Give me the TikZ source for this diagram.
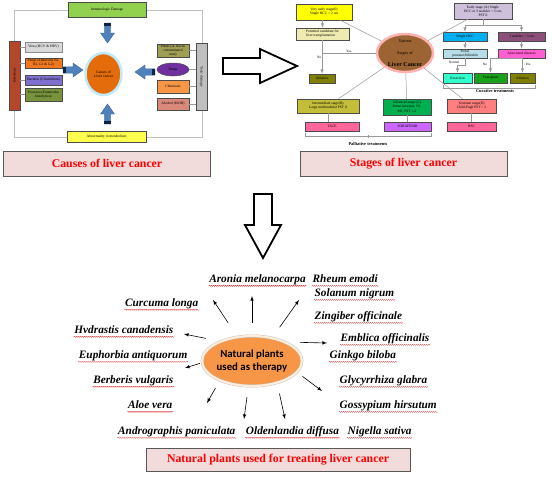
\documentclass[tikz,border=0pt]{standalone}
\usepackage{fontspec}
\setmainfont{Liberation Serif}
\newfontfamily\calib{Carlito}
\usetikzlibrary{shapes.geometric,decorations.pathmorphing}
\definecolor{immgreen}{HTML}{92D050}
\definecolor{infbrown}{HTML}{B4462A}
\definecolor{fungor}{HTML}{F07820}
\definecolor{bacviolet}{HTML}{7F6FCF}
\definecolor{progreen}{HTML}{77933C}
\definecolor{causeor}{HTML}{E46C0A}
\definecolor{plaolive}{HTML}{A09E55}
\definecolor{drugpurple}{HTML}{7030A0}
\definecolor{chemor}{HTML}{F79646}
\definecolor{alcsalmon}{HTML}{D9897A}
\definecolor{abnyellow}{HTML}{FFFF4D}
\definecolor{cappink}{HTML}{F2DCDB}
\definecolor{arblue}{HTML}{4F81BD}
\definecolor{arnavy}{HTML}{10243F}
\definecolor{vesyellow}{HTML}{FFFF00}
\definecolor{potkhaki}{HTML}{EEEAB0}
\definecolor{ablolive}{HTML}{808000}
\definecolor{stbrown}{HTML}{9C6432}
\definecolor{earlav}{HTML}{CCC0DA}
\definecolor{sinblue}{HTML}{00B0F0}
\definecolor{nodplum}{HTML}{8B4F7A}
\definecolor{porblue}{HTML}{B7DEE8}
\definecolor{assmag}{HTML}{FF5FD0}
\definecolor{rescyan}{HTML}{33FFCC}
\definecolor{tragreen}{HTML}{1AA01A}
\definecolor{intolive}{HTML}{C4BD3A}
\definecolor{advgreen}{HTML}{00B050}
\definecolor{tersalmon}{HTML}{FF7F7F}
\definecolor{tacpink}{HTML}{FF6699}
\definecolor{sorviolet}{HTML}{CC66FF}
\definecolor{natorange}{HTML}{F79646}

\begin{document}
\begin{tikzpicture}[x=1pt,y=-1pt,
	bx/.style={draw=black!70,line width=0.5pt,inner sep=0.3pt,align=center,font=\fontsize{3.6}{4.1}\selectfont},
	lbl/.style={inner sep=0.5pt,font=\fontsize{3.4}{4}\selectfont},
	lnk/.style={draw=black!40,line width=0.5pt},
	capbox/.style={draw=black!65,line width=0.8pt,fill=cappink,text=red,font=\bfseries\fontsize{11.8}{13}\selectfont,minimum width=207pt,minimum height=25pt},
	plant/.style={font=\bfseries\itshape\fontsize{11.3}{13}\selectfont,inner sep=0.5pt,text height=7.5pt,text depth=2.2pt},
	squig/.style={red!85!black,line width=0.3pt,decorate,decoration={snake,amplitude=0.5pt,segment length=2pt}},
	barrow/.pic={
		\fill[arblue,draw=arblue!70!black,line width=0.3pt] (0,-3.2) -- (10,-3.2) -- (10,-7) -- (20,0) -- (10,7) -- (10,3.2) -- (0,3.2) -- cycle;
		\fill[arnavy] (0,-3.2) rectangle (3,3.2);
	}]
	\useasboundingbox (0,0) rectangle (552,480);
	\draw[black!25,line width=0.8pt] (14,10) rectangle (202,137);
	\node[bx,fill=immgreen,minimum width=78pt,minimum height=15pt] (imm) at (107,9.5) {Immunologic Damage};
	\node[bx,fill=infbrown,rotate=90,minimum width=69pt,minimum height=11pt] (inf) at (14.5,75.5) {Infections};
	\node[bx,draw=black!45,fill=black!15,minimum width=37pt,minimum height=10pt] (vir) at (43.5,47) {Virus (HCV \& HBV)};
	\node[bx,fill=fungor,minimum width=37pt,minimum height=10pt] (fun) at (43.5,63) {Fungi (Aflatoxins B1,\\ B2, G1 \& G2)};
	\node[bx,fill=bacviolet,minimum width=37pt,minimum height=10pt] (bac) at (43.5,80) {Bacteria (Clostridium)};
	\node[bx,fill=progreen,minimum width=37pt,minimum height=13pt] (pro) at (43.5,94.5) {Protozoa (Entamoeba\\ histolytica)};
	\foreach \b in {vir,fun,bac,pro}
		\draw[lnk] (\b.west) -- (\b.west -| inf.south);
	\node[ellipse,draw=cyan!25,line width=2.5pt,fill=causeor,minimum width=36pt,minimum height=42pt,align=center,inner sep=0pt,font=\fontsize{3.8}{4.4}\selectfont] (cau) at (103.5,74) {Causes of\\ Liver cancer};
	\node[bx,fill=plaolive,minimum width=32pt,minimum height=13pt] (pla) at (173,50.5) {Plants (A. flavus\\ contaminated\\ nuts)};
	\node[bx,ellipse,fill=drugpurple,minimum width=32pt,minimum height=13pt] (dru) at (173,69.5) {Drugs};
	\node[bx,fill=chemor,minimum width=32pt,minimum height=13pt] (che) at (173,86.5) {Chemicals};
	\node[bx,fill=alcsalmon,minimum width=32pt,minimum height=12pt] (alc) at (173,104) {Alcohol (EtOH)};
	\node[bx,fill=black!25,rotate=-90,minimum width=67pt,minimum height=11pt] (tox) at (201.5,76.5) {Toxic damage};
	\foreach \b in {pla,dru,che,alc}
		\draw[lnk] (\b.east) -- (\b.east -| tox.south);
	\node[bx,fill=abnyellow,minimum width=79pt,minimum height=11pt] (abn) at (106.5,136.5) {Abnormality in metabolism};
	\pic[rotate=-90] at (107.5,23) {barrow};
	\pic at (63,70) {barrow};
	\pic[rotate=180] at (155,72) {barrow};
	\pic[rotate=90] at (107.5,124) {barrow};
	\node[capbox] (cap1) at (107,163.5) {Causes of liver cancer};

	\draw[line width=1.8pt,line join=miter,fill=white] (223,58) -- (260,58) -- (260,49) -- (297,66) -- (260,83) -- (260,74) -- (223,74) -- cycle;

	\node[ellipse,draw=red!30,line width=2.5pt,fill=stbrown,minimum width=56pt,minimum height=38pt,align=center,inner sep=0pt] (var) at (405,53) {\fontsize{4.2}{4.8}\selectfont Various\\ \fontsize{4.2}{4.8}\selectfont Stages of\\ \bfseries\fontsize{6}{7}\selectfont Liver Cancer};
	\node[bx,fill=vesyellow,minimum width=56pt,minimum height=16pt] (ves) at (324,12) {Very early stage(0)\\ Single HCC < 2 cm};
	\node[bx,fill=potkhaki,minimum width=53pt,minimum height=12pt,align=left] (pot) at (322.5,34) {Potential candidate for\\ liver transplantation};
	\node[bx,fill=ablolive,minimum width=26pt,minimum height=9pt] (abl1) at (322,78.5) {Ablation};
	\node[bx,fill=earlav,minimum width=58pt,minimum height=16pt] (ear) at (483,11) {Early stage (A) Single\\ HCC or 3 nodules < 3 cm,\\ PST 0};
	\node[bx,fill=sinblue,minimum width=44pt,minimum height=9pt] (sin) at (465,36.5) {Single HCC};
	\node[bx,fill=nodplum,minimum width=47pt,minimum height=9pt] (nod) at (521.5,36.5) {3 nodules < 3 cm};
	\node[bx,fill=porblue,minimum width=44pt,minimum height=9pt] (por) at (465,53.5) {Portal\\ pressure/bilirubin};
	\node[bx,fill=assmag,minimum width=47pt,minimum height=9pt] (ass) at (521.5,53.5) {Associated diseases};
	\node[bx,fill=rescyan,minimum width=29pt,minimum height=10pt] (res) at (457.5,78) {Resection};
	\node[bx,fill=tragreen,minimum width=33pt,minimum height=10pt] (tra) at (490.5,78) {Transplant};
	\node[bx,fill=ablolive,minimum width=25pt,minimum height=10pt] (abl2) at (522.5,78) {Ablation};
	\node[bx,fill=intolive,minimum width=62pt,minimum height=14pt] (int) at (328,106) {Intermediate stage(B)\\ Large multinodular PST 0};
	\node[bx,fill=advgreen,minimum width=48pt,minimum height=16pt] (adv) at (407,107) {Advanced stage (C)\\ Portal invasion, N1,\\ M1, PST 1-2};
	\node[bx,fill=tersalmon,minimum width=49pt,minimum height=14pt] (ter) at (471.5,106) {Terminal stage(D)\\ Child-Pugh PST > 2};
	\node[bx,fill=tacpink,minimum width=54pt,minimum height=9pt] (tac) at (332,126.5) {TACE};
	\node[bx,fill=sorviolet,minimum width=47pt,minimum height=9pt] (sor) at (407.5,126.5) {SORAFENIB};
	\node[bx,fill=tacpink,minimum width=49pt,minimum height=9pt] (bsc) at (471.5,126.5) {BSC};
	\draw[lnk] (ves) -- (var);
	\draw[lnk] (ear) -- (var);
	\draw[lnk] (var) -- (int);
	\draw[lnk] (var) -- (adv);
	\draw[lnk] (var) -- (ter);
	\draw[lnk,-latex] (ves.south -| pot.north) -- (pot.north);
	\draw[lnk] (var.west) -- node[above,lbl] (yes1) {Yes} (var.west -| abl1.north);
	\draw[lnk,-latex] (pot.south -| abl1.north) -- node[left,lbl] (no1) {No} (abl1.north);
	\draw[lnk] (ear.south) -- (ear.south |- 0,25) coordinate (ej);
	\draw[lnk,-latex] (ej) -| (sin.north);
	\draw[lnk,-latex] (ej) -| (nod.north);
	\draw[lnk,-latex] (sin) -- (por);
	\draw[lnk,-latex] (nod) -- (ass);
	\draw[lnk,-latex] (por.south) -- ++(0,7) -| (res.north);
	\node[lbl] (nrm) at (454,62) {Normal};
	\coordinate (aj) at (ass.south -| abl2.north |- 0,66);
	\draw[lnk,-latex] (ass.south -| abl2.north) -- (abl2.north);
	\draw[lnk,-latex] (aj -| abl2.north) -| (tra.north);
	\node[lbl] (no2) at (485,64) {No};
	\node[lbl] (yes2) at (528,64) {Yes};
	\draw[lnk] ([yshift=-2pt]res.south west) -- ++(0,3) -| ([yshift=-2pt]abl2.south east);
	\node[lbl,font=\bfseries\fontsize{4.4}{5}\selectfont] (curt) at (495,91) {Curative treatments};
	\draw[lnk] (int.south) -- (int.south |- tac.north);
	\draw[lnk] (adv.south -| sor.north) -- (sor.north);
	\draw[lnk] (ter.south) -- (bsc.north);
	\draw[lnk] ([yshift=-2pt]tac.south west) -- ++(0,3) -| ([yshift=-2pt]sor.south east);
	\draw[lnk] (368,134.5) -- (368,137.5);
	\node[lbl,font=\bfseries\fontsize{4.4}{5}\selectfont] (palt) at (368,144) {Palliative treatments};
	\node[capbox] (cap2) at (403.5,163.5) {Stages of liver cancer};

	\draw[line width=1.8pt,line join=miter,fill=white] (254,194) -- (272,194) -- (272,225) -- (281,225) -- (263,258) -- (245,225) -- (254,225) -- cycle;

	\node[ellipse,fill=natorange,draw=black!25,line width=0.4pt,double=white!85!orange,double distance=2.2pt,minimum width=90pt,minimum height=50pt,align=center,inner sep=0pt,font=\calib\bfseries\fontsize{10.8}{13}\selectfont] (nat) at (252,361) {Natural plants\\ used as therapy};
	\node[plant] (aro) at (257.5,280) {Aronia melanocarpa};
	\node[plant,anchor=west] (rhe) at (312,280) {Rheum emodi};
	\node[plant,anchor=west] (sol) at (314,294) {Solanum nigrum};
	\node[plant,anchor=west] (zin) at (314,317) {Zingiber officinale};
	\node[plant,anchor=west] (emb) at (340,339) {Emblica officinalis};
	\node[plant,anchor=west] (gin) at (329,356) {Ginkgo biloba};
	\node[plant,anchor=west] (gly) at (339,381) {Glycyrrhiza glabra};
	\node[plant,anchor=west] (gos) at (339,406) {Gossypium hirsutum};
	\node[plant,anchor=west] (nig) at (347,432) {Nigella sativa};
	\node[plant] (old) at (292.5,432) {Oldenlandia diffusa};
	\node[plant,anchor=east] (and) at (236,432) {Andrographis paniculata};
	\node[plant,anchor=east] (alo) at (173,406) {Aloe vera};
	\node[plant,anchor=east] (ber) at (174,381) {Berberis vulgaris};
	\node[plant,anchor=east] (eup) at (188,356) {Euphorbia antiquorum};
	\node[plant,anchor=east] (hyd) at (174,331) {Hvdrastis canadensis};
	\node[plant,anchor=east] (cur) at (199,304) {Curcuma longa};
	\foreach \p in {aro,rhe,sol,zin,emb,gin,gly,gos,nig,old,and,alo,ber,eup,hyd,cur}
		\draw[squig] ([yshift=-0.3pt]\p.south west) -- ([yshift=-0.3pt]\p.south east);
	\coordinate (aro-t) at (252,296);
	\coordinate (cur-t) at (213,300);
	\coordinate (rhe-t) at (299,300);
	\coordinate (hyd-t) at (184,334);
	\coordinate (emb-t) at (327,343);
	\coordinate (eup-t) at (185,368);
	\coordinate (gly-t) at (322,391);
	\coordinate (ber-t) at (207,403);
	\coordinate (and-t) at (244,419);
	\coordinate (old-t) at (285,419);
	\draw[-latex,line width=0.6pt,shorten <=13pt] (nat.90) -- (aro-t);
	\draw[-latex,line width=0.6pt,shorten <=17pt] (nat.121.7) -- (cur-t);
	\draw[-latex,line width=0.6pt,shorten <=13pt] (nat.49) -- (rhe-t);
	\draw[-latex,line width=0.6pt,shorten <=15pt] (nat.148) -- (hyd-t);
	\draw[-latex,line width=0.6pt,shorten <=15pt] (nat.30) -- (emb-t);
	\draw[-latex,line width=0.6pt,shorten <=2pt] (nat.182) -- (eup-t);
	\draw[-latex,line width=0.6pt,shorten <=7pt] (nat.346) -- (gly-t);
	\draw[-latex,line width=0.6pt,shorten <=9pt] (nat.211) -- (ber-t);
	\draw[-latex,line width=0.6pt,shorten <=11pt] (nat.262) -- (and-t);
	\draw[-latex,line width=0.6pt,shorten <=11pt] (nat.319) -- (old-t);
	\node[capbox,minimum width=264pt,minimum height=23pt] (cap3) at (278,459.5) {Natural plants used for treating liver cancer};
\end{tikzpicture}
\end{document}
